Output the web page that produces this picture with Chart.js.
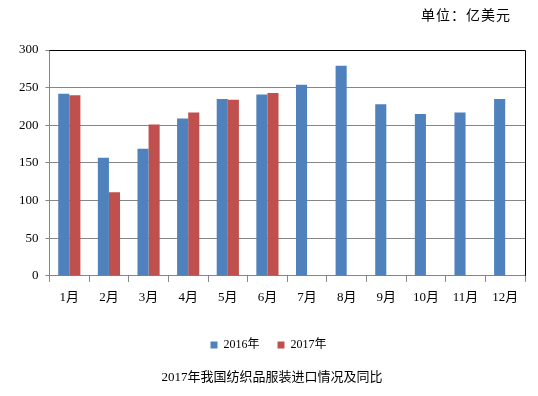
<!DOCTYPE html>
<html>
<head>
<meta charset="utf-8">
<script src="https://cdn.jsdelivr.net/npm/chart.js@4/dist/chart.umd.min.js"></script>
<style>
  body { margin: 0; background: #fff; }
  #wrap { position: relative; width: 538px; height: 396px; }
  .note {
    position: absolute;
    font-family: "Liberation Serif", "Noto Sans CJK SC", serif;
    color: #000;
  }
  #unit { right: 27px; top: 4px; font-size: 14px; letter-spacing: 1px; }
  #title { left: 0; width: 544px; top: 366px; text-align: center; font-size: 13px; }
</style>
</head>
<body>
<div id="wrap">
  <canvas id="chart" width="538" height="396"></canvas>
  <div class="note" id="unit">单位：亿美元</div>
  <div class="note" id="title">2017年我国纺织品服装进口情况及同比</div>
</div>
<script>
const months = ['1月', '2月', '3月', '4月', '5月', '6月', '7月', '8月', '9月', '10月', '11月', '12月'];
const imports2016 = [242, 157, 169, 209, 235, 241, 254, 279, 228, 215, 217, 235];
const imports2017 = [240, 111, 201, 217, 234, 243, null, null, null, null, null, null];

const serif = '"Liberation Serif", "Noto Sans CJK SC", serif';

// black top + right frame of the plot area
const frame = {
  id: 'frame',
  afterDraw(chart) {
    const { ctx, chartArea: a } = chart;
    ctx.save();
    ctx.strokeStyle = '#000';
    ctx.lineWidth = 1;
    ctx.beginPath();
    ctx.moveTo(a.left, a.top + 0.5);
    ctx.lineTo(a.right + 0.5, a.top + 0.5);
    ctx.lineTo(a.right + 0.5, a.bottom);
    ctx.stroke();
    ctx.restore();
  },
};

new Chart(document.getElementById('chart'), {
  type: 'bar',
  data: {
    labels: months,
    datasets: [
      { label: '2016年', data: imports2016, backgroundColor: '#4f81bd' },
      { label: '2017年', data: imports2017, backgroundColor: '#c0504d' },
    ],
  },
  options: {
    responsive: false,
    animation: false,
    datasets: {
      bar: { categoryPercentage: 0.56, barPercentage: 1 },
    },
    layout: {
      padding: { left: 12, right: 13, top: 50, bottom: 35 },
    },
    plugins: {
      legend: {
        position: 'bottom',
        labels: {
          boxWidth: 7,
          boxHeight: 7,
          padding: 18,
          color: '#000',
          font: { family: serif, size: 12 },
        },
      },
      tooltip: { enabled: false },
    },
    scales: {
      x: {
        afterFit(scale) { scale.height += 7.5; },
        grid: {
          offset: true,
          drawOnChartArea: false,
          color: '#868686',
          tickLength: 6,
        },
        border: { color: '#868686' },
        ticks: {
          color: '#000',
          padding: 8,
          font: { family: serif, size: 13 },
        },
      },
      y: {
        min: 0,
        max: 300,
        ticks: {
          stepSize: 50,
          color: '#000',
          padding: 7,
          font: { family: serif, size: 13 },
        },
        grid: { color: '#868686', tickLength: 4 },
        border: { color: '#868686' },
      },
    },
  },
  plugins: [frame],
});
</script>
</body>
</html>
